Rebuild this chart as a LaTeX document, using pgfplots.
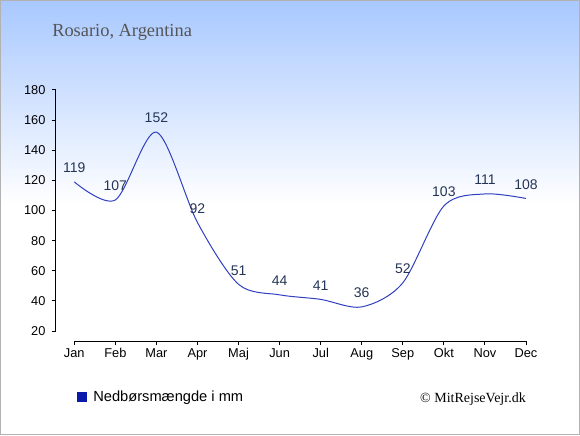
\documentclass[border=0pt]{standalone}
\usepackage{pgfplots}
\pgfplotsset{compat=1.18}
\usepackage{fontspec}
\setmainfont{Liberation Sans}
\newfontfamily\seriffont{Liberation Serif}
\definecolor{topblue}{HTML}{A8C8FF}
\definecolor{linec}{HTML}{3040C0}
\definecolor{labelc}{HTML}{253555}
\definecolor{legc}{HTML}{0A1AAA}
\definecolor{titlec}{HTML}{555555}
\begin{document}
\begin{tikzpicture}[x=0.75pt,y=0.75pt]
\fill[white] (0,0) rectangle (580,435);
\shade[top color=topblue,bottom color=white] (0,230) rectangle (580,435);
\draw[color=black!30,line width=0.75pt] (0.5,0.5) rectangle (579.5,434.5);
\node[anchor=base west,inner sep=0,text=titlec,font=\seriffont\fontsize{13.8}{16}\selectfont] at (52,398) {Rosario, Argentina};
\begin{axis}[
  at={(41.625pt,70.5pt)}, anchor=south west,
  scale only axis, width=352.875pt, height=188.25pt,
  xmin=-0.4575, xmax=11, ymin=13.36, ymax=180,
  axis line style={draw=none},
  clip=false,
  tick pos=left, tick align=outside,
  major tick length=3pt,
  tick style={black,line width=0.75pt},
  xtick={0,...,11},
  xticklabels={Jan,Feb,Mar,Apr,Maj,Jun,Jul,Aug,Sep,Okt,Nov,Dec},
  ytick={20,40,...,180},
  tick label style={font=\fontsize{9.6}{11}\selectfont,text=black},
  yticklabel style={xshift=-1pt},
  xticklabel style={yshift=1pt},
  /pgf/number format/assume math mode=true,
  legend style={at={(0.0457,-0.223)},anchor=west,draw=none,fill=none,font=\fontsize{11}{13}\selectfont,
    legend cell align=left, inner sep=0pt, nodes={inner sep=1pt}},
]
\draw[black,line width=0.75pt] (axis cs:-0.4575,20) -- (axis cs:-0.4575,180);
\draw[black,line width=0.75pt] (axis cs:0,13.36) -- (axis cs:11,13.36);
\addlegendimage{legend image code/.code={\fill[legc,draw=none] (0pt,-3.75pt) rectangle (7.5pt,3.75pt); \path[draw=none] (0pt,0pt) -- (11pt,0pt);}}
\addlegendentry{Nedbørsmængde i mm}
\addplot[color=linec, line width=0.75pt, smooth, tension=0.5, forget plot,
  nodes near coords, point meta=explicit,
  every node near coord/.append style={anchor=south,inner sep=0pt,yshift=6.5pt,text=labelc,font=\fontsize{10.5}{12}\selectfont}]
  coordinates {
  (0,119) [119] (1,107) [107] (2,152) [152] (3,92) [92] (4,51) [51] (5,44) [44]
  (6,41) [41] (7,36) [36] (8,52) [52] (9,103) [103] (10,111) [111] (11,108) [108]
  };
\end{axis}
\node[anchor=base east,inner sep=0,font=\seriffont\fontsize{10.5}{12}\selectfont] at (526,33) {© MitRejseVejr.dk};
\end{tikzpicture}
\end{document}
